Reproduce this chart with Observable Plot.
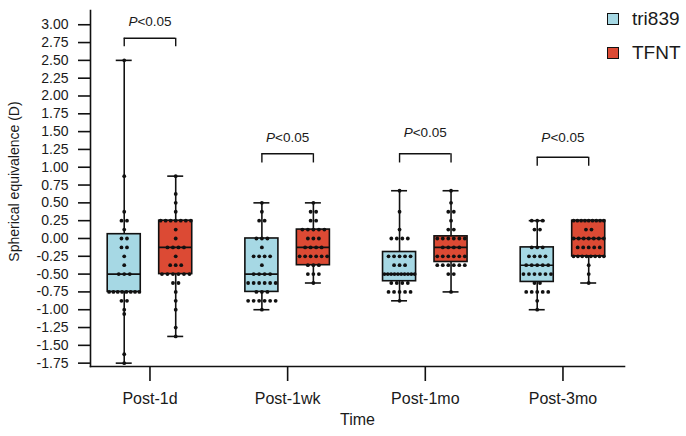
<!DOCTYPE html>
<html>
<head>
<meta charset="utf-8">
<script src="https://cdn.jsdelivr.net/npm/d3@7"></script>
<script src="https://cdn.jsdelivr.net/npm/@observablehq/plot@0.6"></script>
<style>
  html, body { margin: 0; padding: 0; background: #fff; }
  #wrap { position: relative; width: 686px; height: 436px; font-family: "Liberation Sans", Arial, Helvetica, sans-serif; }
  #legend { position: absolute; left: 607px; top: 2px; font-size: 19px; color: #1a1a1a; }
  .lg-row { display: flex; align-items: center; height: 34px; }
  .lg-sw { width: 10px; height: 10px; border: 1px solid #111; margin-right: 13px; }
</style>
</head>
<body>
<div id="wrap"><div id="legend"></div></div>
<script>
// ---- data ----
const times = ["Post-1d", "Post-1wk", "Post-1mo", "Post-3mo"];
const seriesNames = ["tri839", "TFNT"];
const seriesColors = ["#a6d8e4", "#dc4a34"];
const yTicks = [-1.75, -1.5, -1.25, -1.0, -0.75, -0.5, -0.25, 0.0, 0.25, 0.5, 0.75, 1.0, 1.25, 1.5, 1.75, 2.0, 2.25, 2.5, 2.75, 3.0];

// box summaries (min, Q1, median, Q3, max) per time point
const tri839Min    = [-1.75, -1.0, -0.875, -1.0];
const tri839Q1     = [-0.75, -0.75, -0.6, -0.61];
const tri839Median = [-0.5, -0.5, -0.5, -0.375];
const tri839Q3     = [0.06, 0.0, -0.19, -0.125];
const tri839Max    = [2.5, 0.5, 0.67, 0.25];

const tfntMin    = [-1.375, -0.625, -0.75, -0.625];
const tfntQ1     = [-0.5, -0.375, -0.33, -0.25];
const tfntMedian = [-0.125, -0.125, -0.125, 0.0];
const tfntQ3     = [0.25, 0.125, 0.03, 0.25];
const tfntMax    = [0.875, 0.5, 0.67, 0.25];

// individual eyes (dots)
const tri839Post1d = [2.5, 0.875, 0.375, 0.25, 0.25, 0.125, 0, 0, -0.125, -0.125, -0.25, -0.375, -0.5, -0.5, -0.5,
  -0.75, -0.75, -0.75, -0.75, -0.75, -0.75, -0.75, -0.75, -0.875, -0.875, -1.0, -1.06, -1.625, -1.75];
const tfntPost1d = [0.875, 0.625, 0.5, 0.375, 0.25, 0.25, 0.25, 0.25, 0.25, 0.25, 0.25, 0.125, 0,
  -0.125, -0.125, -0.125, -0.125, -0.25, -0.375, -0.375, -0.375, -0.5, -0.5, -0.5, -0.5, -0.5, -0.5,
  -0.625, -0.625, -0.75, -0.875, -1.0, -1.25, -1.375];
const tri839Post1wk = [0.5, 0.375, 0.25, 0.25, 0, 0, 0, -0.125, -0.25, -0.25, -0.25, -0.25, -0.375,
  -0.5, -0.5, -0.5, -0.5, -0.625, -0.625, -0.625, -0.625, -0.625, -0.625, -0.75, -0.75, -0.75,
  -0.875, -0.875, -0.875, -0.875, -0.875, -0.875, -1.0];
const tfntPost1wk = [0.5, 0.375, 0.375, 0.25, 0.25, 0.125, 0.125, 0.125, 0.125, 0.125, 0, 0, 0,
  -0.125, -0.125, -0.125, -0.125, -0.25, -0.25, -0.25, -0.25, -0.25, -0.25, -0.375, -0.375, -0.375,
  -0.5, -0.5, -0.5, -0.625];
const tri839Post1mo = [0.67, 0.375, 0.125, 0, 0, 0, 0, -0.25, -0.25, -0.25, -0.25, -0.25, -0.375, -0.375, -0.375,
  -0.5, -0.5, -0.5, -0.5, -0.5, -0.5, -0.5, -0.5, -0.5, -0.5, -0.625, -0.625, -0.625, -0.625,
  -0.75, -0.75, -0.75, -0.75, -0.75, -0.875];
const tfntPost1mo = [0.67, 0.5, 0.375, 0.375, 0.25, 0.125, 0.125, 0, 0, 0, 0, 0, 0,
  -0.125, -0.125, -0.125, -0.125, -0.25, -0.25, -0.25, -0.25, -0.25, -0.25,
  -0.375, -0.375, -0.375, -0.375, -0.375, -0.375, -0.5, -0.5, -0.75];
const tri839Post3mo = [0.25, 0.25, 0.25, 0.125, 0.125, -0.125, -0.125, -0.125, -0.25, -0.25, -0.25, -0.25,
  -0.375, -0.375, -0.375, -0.375, -0.375, -0.5, -0.5, -0.5, -0.5, -0.5, -0.5, -0.625, -0.625,
  -0.75, -0.75, -0.75, -0.75, -0.75, -0.875, -1.0];
const tfntPost3mo = [0.25, 0.25, 0.25, 0.25, 0.25, 0.25, 0.25, 0.25, 0.25, 0.125, 0.125, 0, 0, 0, 0, 0, 0, 0,
  -0.125, -0.125, -0.125, -0.125, -0.125, -0.25, -0.25, -0.25, -0.25, -0.25, -0.25, -0.25, -0.25,
  -0.375, -0.5, -0.625];

// significance brackets
const pLabels = ["P<0.05", "P<0.05", "P<0.05", "P<0.05"];
const pLabelY = [3.05, 1.42, 1.49, 1.42];
const bracketTop = [2.81, 1.19, 1.19, 1.14];
const bracketLeg = [2.69, 1.06, 1.06, 1.015];

// ---- build tables ----
const seriesOffset = [-0.187, 0.187];
const boxHalf = 0.12, capHalf = 0.058;
const summaries = [
  [tri839Min, tri839Q1, tri839Median, tri839Q3, tri839Max],
  [tfntMin, tfntQ1, tfntMedian, tfntQ3, tfntMax]
];
const pointsBySeries = [
  [tri839Post1d, tri839Post1wk, tri839Post1mo, tri839Post3mo],
  [tfntPost1d, tfntPost1wk, tfntPost1mo, tfntPost3mo]
];

const boxes = [];
seriesNames.forEach((s, si) => {
  times.forEach((t, ti) => {
    const [mn, q1, md, q3, mx] = summaries[si].map(a => a[ti]);
    boxes.push({series: s, time: t, x: ti + seriesOffset[si], min: mn, q1, median: md, q3, max: mx});
  });
});

const points = [];
seriesNames.forEach((s, si) => {
  times.forEach((t, ti) => {
    const center = ti + seriesOffset[si];
    const groups = d3.group(pointsBySeries[si][ti], v => v);
    for (const [v, arr] of groups) {
      const n = arr.length;
      const step = n > 1 ? Math.min(0.04, 0.22 / (n - 1)) : 0;
      arr.forEach((_, i) => points.push({series: s, time: t, v, x: center + (i - (n - 1) / 2) * step}));
    }
  });
});

const brackets = times.map((t, i) => ({
  time: t, x1: i + seriesOffset[0], x2: i + seriesOffset[1], xm: i,
  top: bracketTop[i], leg: bracketLeg[i], label: pLabels[i], ly: pLabelY[i]
}));

const SW = 1.6;
const chart = Plot.plot({
  width: 686,
  height: 436,
  marginLeft: 90,
  marginRight: 62,
  marginTop: 10,
  marginBottom: 70,
  style: {fontFamily: '"Liberation Sans", Arial, Helvetica, sans-serif', fontSize: "14px", color: "#1a1a1a", background: "white"},
  x: {type: "linear", domain: [-0.432, 3.447]},
  y: {domain: [-1.797, 3.2]},
  color: {domain: seriesNames, range: seriesColors},
  marks: [
    // whiskers
    Plot.ruleX(boxes, {x: "x", y1: "min", y2: "q1", stroke: "#111", strokeWidth: SW}),
    Plot.ruleX(boxes, {x: "x", y1: "q3", y2: "max", stroke: "#111", strokeWidth: SW}),
    // caps
    Plot.ruleY(boxes, {y: "max", x1: d => d.x - capHalf, x2: d => d.x + capHalf, stroke: "#111", strokeWidth: SW}),
    Plot.ruleY(boxes, {y: "min", x1: d => d.x - capHalf, x2: d => d.x + capHalf, stroke: "#111", strokeWidth: SW}),
    // boxes
    Plot.rect(boxes, {x1: d => d.x - boxHalf, x2: d => d.x + boxHalf, y1: "q1", y2: "q3", fill: "series", stroke: "#111", strokeWidth: SW}),
    Plot.ruleY(boxes, {y: "median", x1: d => d.x - boxHalf, x2: d => d.x + boxHalf, stroke: "#111", strokeWidth: SW}),
    // individual points
    Plot.dot(points, {x: "x", y: "v", r: 1.9, fill: "#111", stroke: "none"}),
    // brackets
    Plot.ruleY(brackets, {y: "top", x1: "x1", x2: "x2", stroke: "#111", strokeWidth: 1.4}),
    Plot.ruleX(brackets, {x: "x1", y1: "leg", y2: "top", stroke: "#111", strokeWidth: 1.4}),
    Plot.ruleX(brackets, {x: "x2", y1: "leg", y2: "top", stroke: "#111", strokeWidth: 1.4}),
    Plot.text(brackets, {x: "xm", y: "ly", text: "label", fontSize: 13.5, fill: "#1a1a1a"}),
    // axes
    Plot.frame({anchor: "left", stroke: "#111", strokeWidth: SW}),
    Plot.frame({anchor: "bottom", stroke: "#111", strokeWidth: SW}),
    Plot.axisY({ticks: yTicks, tickFormat: d => d.toFixed(2), tickSize: 12, tickPadding: 10, fontSize: 14, strokeWidth: SW, stroke: "#111", label: null}),
    Plot.axisX({ticks: [0, 1, 2, 3], tickFormat: i => times[i], tickSize: 15, tickPadding: 11, fontSize: 16, strokeWidth: SW, stroke: "#111", label: null}),
    Plot.text(["Time"], {frameAnchor: "bottom", dy: 58, fontSize: 16, fill: "#1a1a1a"}),
    Plot.text(["Spherical equivalence (D)"], {frameAnchor: "left", textAnchor: "middle", rotate: -90, dx: -76, dy: -7, fontSize: 14, fill: "#1a1a1a"})
  ]
});

// italic "P"
chart.querySelectorAll("text").forEach(el => {
  if (el.textContent === "P<0.05") {
    el.textContent = "";
    const a = document.createElementNS("http://www.w3.org/2000/svg", "tspan");
    a.setAttribute("font-style", "italic");
    a.textContent = "P";
    const b = document.createElementNS("http://www.w3.org/2000/svg", "tspan");
    b.textContent = "<0.05";
    el.appendChild(a); el.appendChild(b);
  }
});

const wrap = document.getElementById("wrap");
wrap.insertBefore(chart, wrap.firstChild);

const legend = document.getElementById("legend");
seriesNames.forEach((s, i) => {
  const row = document.createElement("div");
  row.className = "lg-row";
  const sw = document.createElement("div");
  sw.className = "lg-sw";
  sw.style.background = seriesColors[i];
  const tx = document.createElement("span");
  tx.textContent = s;
  row.appendChild(sw); row.appendChild(tx);
  legend.appendChild(row);
});
</script>
</body>
</html>
